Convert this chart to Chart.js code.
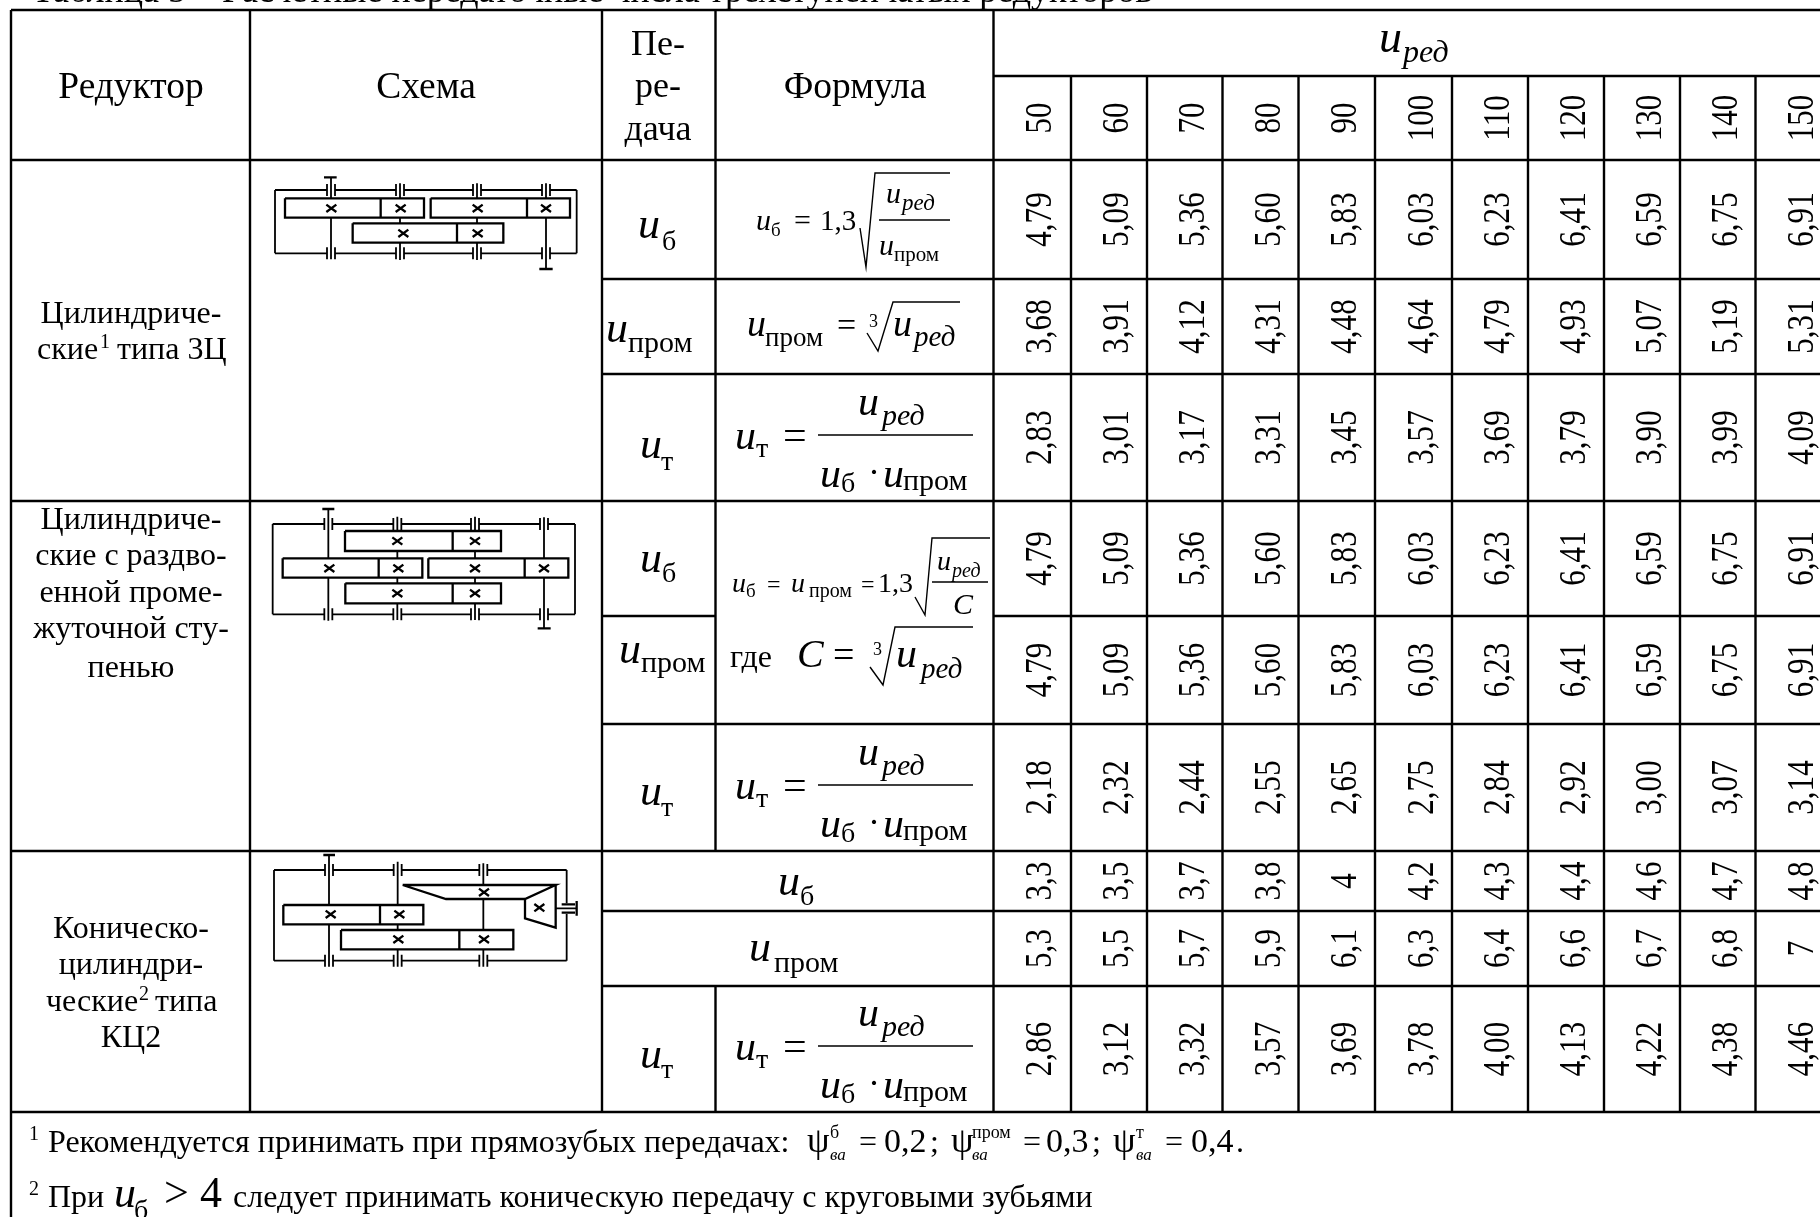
<!DOCTYPE html>
<html>
<head>
<meta charset="utf-8">
<title>Таблица</title>
<script src="https://cdn.jsdelivr.net/npm/chart.js@4"></script>
<style>
html, body { margin: 0; padding: 0; background: #fff; overflow: hidden; }
canvas { display: block; }
</style>
</head>
<body>
<canvas id="grafica" width="1820" height="1217"></canvas>
<script>
// Datos de la tabla
const razones = [50, 60, 70, 80, 90, 100, 110, 120, 130, 140, 150];
const zu_b = [4.79, 5.09, 5.36, 5.60, 5.83, 6.03, 6.23, 6.41, 6.59, 6.75, 6.91];
const zu_prom = [3.68, 3.91, 4.12, 4.31, 4.48, 4.64, 4.79, 4.93, 5.07, 5.19, 5.31];
const zu_t = [2.83, 3.01, 3.17, 3.31, 3.45, 3.57, 3.69, 3.79, 3.90, 3.99, 4.09];
const razd_b = [4.79, 5.09, 5.36, 5.60, 5.83, 6.03, 6.23, 6.41, 6.59, 6.75, 6.91];
const razd_prom = [4.79, 5.09, 5.36, 5.60, 5.83, 6.03, 6.23, 6.41, 6.59, 6.75, 6.91];
const razd_t = [2.18, 2.32, 2.44, 2.55, 2.65, 2.75, 2.84, 2.92, 3.00, 3.07, 3.14];
const kc_b = [3.3, 3.5, 3.7, 3.8, 4, 4.2, 4.3, 4.4, 4.6, 4.7, 4.8];
const kc_prom = [5.3, 5.5, 5.7, 5.9, 6.1, 6.3, 6.4, 6.6, 6.7, 6.8, 7];
const kc_t = [2.86, 3.12, 3.32, 3.57, 3.69, 3.78, 4.00, 4.13, 4.22, 4.38, 4.46];

const encabezados = ['Редуктор', 'Схема', 'Формула'];
const peredacha = ['Пе-', 'ре-', 'дача'];
const tipo1 = ['Цилиндриче-', 'ские', 'типа 3Ц'];
const tipo2 = ['Цилиндриче-', 'ские с раздво-', 'енной проме-', 'жуточной сту-', 'пенью'];
const tipo3 = ['Коническо-', 'цилиндри-', 'ческие', 'типа', 'КЦ2'];
const titulo = 'Таблица 5 – Расчетные передаточные числа трехступенчатых редукторов';
const nota1 = 'Рекомендуется принимать при прямозубых передачах:';
const nota2a = 'При';
const nota2b = 'следует принимать коническую передачу с круговыми зубьями';

// Geometria de la tabla, en unidades de los ejes
const bordesCol = [993.5, 1071, 1147, 1222.5, 1298.5, 1375, 1452, 1528, 1604, 1680, 1755.5, 1832];
const SERIF = '"Liberation Serif"';

const filasValores = [
    [zu_b, 219.5, 2], [zu_prom, 326.5, 2], [zu_t, 437.5, 2],
    [razd_b, 558.5, 2], [razd_prom, 670, 2], [razd_t, 787.5, 2],
    [kc_b, 881, 1], [kc_prom, 948.5, 1], [kc_t, 1049, 2]
];

// Segmentos de la reticula
const reticula = [];
function seg(x1, y1, x2, y2, lista) {
    (lista || reticula).push({ x: x1, y: y1 }, { x: x2, y: y2 }, { x: x2, y: null });
}
[[10, 11], [160, 11], [501, 11], [851, 11], [1112, 11], [76, 993.5], [279, 602], [374, 602], [724, 602], [911, 602], [986, 602]]
    .forEach(function (h) { seg(h[1], h[0], 1820, h[0]); });
seg(602, 616, 715.5, 616);
seg(993.5, 616, 1820, 616);
seg(11, 10, 11, 1217);
seg(250, 10, 250, 1112);
seg(602, 10, 602, 1112);
seg(715.5, 10, 715.5, 851);
seg(715.5, 986, 715.5, 1112);
seg(993.5, 10, 993.5, 1112);
bordesCol.slice(1, -1).forEach(function (x) { seg(x, 76, x, 1112); });

// Esquemas: coordenadas de la ampliacion /3 + origen
const fino = [];
const grueso = [];
function esquema(ox, oy) {
    const X = function (v) { return ox + v / 3; };
    const Y = function (v) { return oy + v / 3; };
    return {
        linea: function (pts, lista) {
            for (let i = 0; i < pts.length - 1; i++) {
                (lista || fino).push({ x: X(pts[i][0]), y: Y(pts[i][1]) });
            }
            const u = pts[pts.length - 1];
            (lista || fino).push({ x: X(u[0]), y: Y(u[1]) }, { x: X(u[0]), y: null });
        },
        caja: function (x1, y1, x2, y2, div) {
            this.linea([[x1, y1], [x2, y1], [x2, y2], [x1, y2], [x1, y1]], grueso);
            this.linea([[div, y1], [div, y2]], grueso);
        },
        cruz: function (x, y) {
            this.linea([[x - 15, y - 11], [x + 15, y + 11]], grueso);
            this.linea([[x - 15, y + 11], [x + 15, y - 11]], grueso);
        },
        // cojinete sobre la carcasa
        apoyo: function (x, y) {
            this.linea([[x - 12, y - 18], [x - 12, y + 18]]);
            this.linea([[x + 12, y - 18], [x + 12, y + 18]]);
        }
    };
}
function carcasa(e, xs, arriba, abajo, izq, der) {
    const tramo = function (y) {
        let ant = izq;
        xs.forEach(function (x) {
            e.linea([[ant, y], [x - 12, y]]);
            e.apoyo(x, y);
            ant = x + 12;
        });
        e.linea([[ant, y], [der, y]]);
    };
    tramo(arriba);
    tramo(abajo);
    e.linea([[izq, arriba], [izq, abajo]]);
}

// Esquema 1
(function () {
    const e = esquema(260, 170);
    carcasa(e, [213, 420, 651, 858], 60, 250, 45, 950);
    e.linea([[950, 60], [950, 250]]);
    e.caja(75, 85, 492, 143, 362);
    e.caja(512, 85, 930, 143, 801);
    e.caja(278, 160, 730, 218, 591);
    [[214, 115], [422, 115], [653, 115], [858, 115], [430, 190], [653, 190]].forEach(function (c) { e.cruz(c[0], c[1]); });
    e.linea([[213, 22], [213, 85]]); e.linea([[213, 143], [213, 268]]);
    e.linea([[192, 22], [230, 22]], grueso);
    e.linea([[420, 40], [420, 85]]); e.linea([[420, 143], [420, 160]]); e.linea([[420, 218], [420, 270]]);
    e.linea([[651, 40], [651, 85]]); e.linea([[651, 143], [651, 160]]); e.linea([[651, 218], [651, 270]]);
    e.linea([[858, 40], [858, 85]]); e.linea([[858, 143], [858, 297]]);
    e.linea([[838, 297], [878, 297]], grueso);
})();

// Esquema 2
(function () {
    const e = esquema(260, 500);
    carcasa(e, [205, 412, 645, 852], 72, 343, 38, 945);
    e.linea([[945, 72], [945, 343]]);
    e.caja(255, 93, 723, 153, 578);
    e.caja(68, 175, 487, 233, 356);
    e.caja(505, 175, 925, 233, 794);
    e.caja(256, 250, 723, 310, 578);
    [[412, 123], [645, 123], [208, 205], [415, 205], [645, 205], [852, 205], [412, 280], [645, 280]].forEach(function (c) { e.cruz(c[0], c[1]); });
    e.linea([[205, 27], [205, 175]]); e.linea([[205, 233], [205, 362]]);
    e.linea([[187, 27], [223, 27]], grueso);
    [412, 645].forEach(function (x) {
        e.linea([[x, 50], [x, 93]]); e.linea([[x, 153], [x, 175]]);
        e.linea([[x, 233], [x, 250]]); e.linea([[x, 310], [x, 360]]);
    });
    e.linea([[852, 52], [852, 175]]); e.linea([[852, 233], [852, 385]]);
    e.linea([[833, 385], [872, 385]], grueso);
})();

// Esquema 3
(function () {
    const e = esquema(260, 845);
    carcasa(e, [207, 413, 670], 75, 347, 42, 920);
    e.linea([[920, 75], [920, 175]]);
    e.linea([[920, 207], [920, 347]]);
    e.caja(70, 180, 490, 238, 360);
    e.caja(243, 255, 760, 313, 598);
    e.linea([[428, 120], [887, 120], [795, 162], [558, 162], [428, 120]], grueso);
    e.linea([[887, 120], [887, 248], [795, 220], [795, 162]], grueso);
    [[212, 208], [418, 208], [415, 283], [672, 283], [672, 142], [838, 188]].forEach(function (c) { e.cruz(c[0], c[1]); });
    e.linea([[207, 30], [207, 180]]); e.linea([[207, 238], [207, 365]]);
    e.linea([[190, 30], [225, 30]], grueso);
    e.linea([[413, 50], [413, 180]]); e.linea([[413, 238], [413, 255]]); e.linea([[413, 313], [413, 365]]);
    e.linea([[670, 55], [670, 120]]); e.linea([[670, 162], [670, 255]]); e.linea([[670, 313], [670, 365]]);
    e.linea([[905, 178], [945, 178]], grueso);
    e.linea([[905, 203], [945, 203]], grueso);
    e.linea([[887, 190], [950, 190]]);
    e.linea([[950, 168], [950, 212]], grueso);
})();

// Formulas: raices y barras
const trazos = [];
function raiz(x1, y1, x2, y2, x3, y3, x4) {
    trazos.push({ x: x1, y: y1 }, { x: x2, y: y2 }, { x: x3, y: y3 }, { x: x4, y: y3 }, { x: x4, y: null });
}
seg(879, 220, 950, 220, trazos);
raiz(860, 228, 866, 267, 875, 173, 950);
raiz(867, 333, 878, 351, 893, 302, 960);
raiz(915, 597, 925, 615, 932, 538, 990);
seg(932, 582, 988, 582, trazos);
raiz(870, 667, 883, 685, 895, 627, 973);
[0, 350, 611].forEach(function (d) { seg(818, 435 + d, 973, 435 + d, trazos); });

// Textos
const textos = [];
function T(x, y, s, size, estilo, align) {
    textos.push({ x: x, y: y, s: s, size: size, estilo: estilo || '', align: align || 'left' });
}
function U(x, y, size, sub, subSize, subDy, subDx, estilo) {
    T(x, y, 'u', size, 'italic');
    T(x + subDx, y + subDy, sub, subSize, estilo || '');
}

T(32, 1.5, titulo, 36);
encabezados.forEach(function (t, i) { T([131, 426, 855][i], 98, t, 37.5, '', 'center'); });
peredacha.forEach(function (t, i) { T(658, [55, 97, 140][i], t, 36, '', 'center'); });
U(1379, 52, 46, 'ред', 32, 10, 24, 'italic');

T(131, 323, tipo1[0], 32, '', 'center');
T(37, 359, tipo1[1], 32);
T(100, 348, '1', 20);
T(117, 359, tipo1[2], 32);
tipo2.forEach(function (t, i) { T(131, [529, 565, 602, 638, 677][i], t, 32, '', 'center'); });
T(131, 938, tipo3[0], 32, '', 'center');
T(131, 974, tipo3[1], 32, '', 'center');
T(46, 1011, tipo3[2], 32);
T(139, 1000, '2', 20);
T(155, 1011, tipo3[3], 32);
T(131, 1047, tipo3[4], 32, '', 'center');

// Columna de transmision
U(638, 238, 44, 'б', 28, 12, 24);
U(606, 342, 44, 'пром', 30, 10, 22);
U(640, 458, 44, 'т', 28, 12, 21);
U(640, 572, 44, 'б', 28, 10, 22);
U(619, 663, 44, 'пром', 30, 9, 22);
U(640, 805, 44, 'т', 28, 11, 21);
U(778, 895, 44, 'б', 28, 10, 22);
U(749, 961, 44, 'пром', 30, 11, 25);
U(640, 1068, 44, 'т', 28, 10, 21);

// Formula 1
U(756, 230, 30, 'б', 19, 6, 15);
T(794, 230, '=', 30);
T(820, 230, '1,3', 29);
U(886, 203, 30, 'ред', 23, 7, 16, 'italic');
U(879, 255, 30, 'пром', 21, 6, 15);
// Formula 2
U(747, 336, 38, 'пром', 27, 10, 18);
T(837, 336, '=', 34);
T(869, 327, '3', 18);
U(893, 336, 38, 'ред', 29, 10, 21, 'italic');
// Formula de u_t repetida en cada bloque
[0, 350, 611].forEach(function (d) {
    U(735, 449 + d, 42, 'т', 28, 8, 21);
    T(783, 449 + d, '=', 42);
    U(858, 415 + d, 42, 'ред', 30, 10, 24, 'italic');
    U(820, 487 + d, 42, 'б', 28, 5, 21);
    T(868, 484 + d, '·', 36);
    U(883, 487 + d, 42, 'пром', 30, 3, 20);
});
// Formula 4-5
U(732, 592, 28, 'б', 19, 5, 14);
T(767, 592, '=', 24);
U(791, 592, 28, 'пром', 20, 5, 18);
T(861, 592, '=', 24);
T(878, 592, '1,3', 28);
U(937, 570, 28, 'ред', 20, 7, 15, 'italic');
T(953, 614, 'C', 30, 'italic');
T(730, 667, 'где', 32);
T(797, 667, 'C', 40, 'italic');
T(833, 667, '=', 38);
T(873, 655, '3', 18);
U(896, 667, 42, 'ред', 29, 11, 25, 'italic');

// Notas al pie
T(29, 1140, '1', 20);
T(48, 1152, nota1, 32);
[[807, 830, 'б', 859, '0,2', 884, ';', 930], [951, 972, 'пром', 1023, '0,3', 1046, ';', 1092], [1113, 1136, 'т', 1165, '0,4', 1191, '.', 1236]]
    .forEach(function (p) {
        T(p[0], 1152, 'ψ', 36);
        T(p[1], 1138, p[2], 18);
        T(p[1], 1160, 'ва', 17, 'italic');
        T(p[3], 1152, '=', 32);
        T(p[5], 1152, p[4], 34);
        T(p[7], 1152, p[6], 32);
    });
T(29, 1195, '2', 20);
T(48, 1207, nota2a, 32);
U(114, 1207, 44, 'б', 28, 12, 20);
T(164, 1207, '>', 44);
T(200, 1207, '4', 44);
T(233, 1207, nota2b, 32);

const dibujaTextos = {
    id: 'dibujaTextos',
    afterDatasetsDraw: function (chart) {
        const ctx = chart.ctx;
        const sx = chart.scales.x;
        const sy = chart.scales.y;
        ctx.save();
        ctx.fillStyle = '#000';
        ctx.textBaseline = 'alphabetic';
        textos.forEach(function (t) {
            ctx.font = t.estilo + ' ' + t.size + 'px ' + SERIF;
            ctx.textAlign = t.align;
            ctx.fillText(t.s, sx.getPixelForValue(t.x), sy.getPixelForValue(t.y));
        });
        chart.data.datasets.forEach(function (ds, i) {
            if (ds.decimales === undefined) return;
            const meta = chart.getDatasetMeta(i);
            meta.data.forEach(function (p, j) {
                const v = ds.data[j].v;
                const txt = ds.decimales === 0 ? String(v)
                    : ds.decimales === 1 ? String(v).replace('.', ',')
                    : v.toFixed(2).replace('.', ',');
                ctx.save();
                ctx.translate(p.x + 19, p.y);
                ctx.rotate(-Math.PI / 2);
                ctx.scale(0.84, 1);
                ctx.font = '37px ' + SERIF;
                ctx.textAlign = 'center';
                ctx.fillText(txt, 0, 0);
                ctx.restore();
            });
        });
        ctx.restore();
    }
};

function puntosFila(valores, y) {
    return valores.map(function (v, i) {
        return { x: (bordesCol[i] + bordesCol[i + 1]) / 2, y: y, v: v };
    });
}

function lineas(datos, ancho) {
    return { data: datos, showLine: true, borderColor: '#000', borderWidth: ancho, pointRadius: 0, spanGaps: false, fill: false };
}

const conjuntos = [
    lineas(reticula, 2.4),
    lineas(fino, 1.8),
    lineas(grueso, 2.3),
    lineas(trazos, 1.4),
    { data: puntosFila(razones, 118), decimales: 0, pointRadius: 0 }
];
filasValores.forEach(function (f) {
    conjuntos.push({ data: puntosFila(f[0], f[1]), decimales: f[2], pointRadius: 0 });
});

new Chart(document.getElementById('grafica'), {
    type: 'scatter',
    data: { datasets: conjuntos },
    options: {
        responsive: false,
        animation: false,
        layout: { padding: 0 },
        plugins: { legend: { display: false }, tooltip: { enabled: false }, title: { display: false } },
        scales: {
            x: { type: 'linear', display: false, min: 0, max: 1820 },
            y: { type: 'linear', display: false, reverse: true, min: 0, max: 1217 }
        }
    },
    plugins: [dibujaTextos]
});
</script>
</body>
</html>
